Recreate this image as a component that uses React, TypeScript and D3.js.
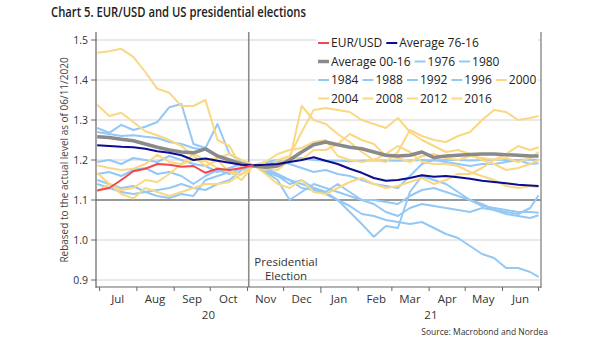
import React, { useEffect, useRef } from "react";
import * as d3 from "d3";

// ---------- DATA ----------
const dates = [
  "2020-06-29", "2020-07-09", "2020-07-19", "2020-07-29", "2020-08-08", "2020-08-18", "2020-08-28",
  "2020-09-07", "2020-09-17", "2020-09-27", "2020-10-07", "2020-10-17", "2020-10-27", "2020-11-06",
  "2020-11-16", "2020-11-26", "2020-12-06", "2020-12-16", "2020-12-26", "2021-01-05", "2021-01-15",
  "2021-01-25", "2021-02-04", "2021-02-14", "2021-02-24", "2021-03-06", "2021-03-16", "2021-03-26",
  "2021-04-05", "2021-04-15", "2021-04-25", "2021-05-05", "2021-05-15", "2021-05-25", "2021-06-04",
  "2021-06-14", "2021-06-24", "2021-07-01",
];

const eurusd = [1.124, 1.13, 1.15, 1.172, 1.178, 1.19, 1.188, 1.183, 1.185, 1.168, 1.178, 1.175, 1.18, 1.187];

const avg7616 = [1.237, 1.235, 1.233, 1.232, 1.228, 1.222, 1.218, 1.212, 1.2, 1.204, 1.198, 1.193, 1.188, 1.187,
  1.188, 1.19, 1.195, 1.2, 1.207, 1.198, 1.19, 1.178, 1.168, 1.155, 1.148, 1.15, 1.155, 1.162, 1.158, 1.16,
  1.157, 1.153, 1.148, 1.145, 1.142, 1.138, 1.136, 1.135];

const avg0016 = [1.258, 1.256, 1.252, 1.248, 1.24, 1.232, 1.225, 1.22, 1.218, 1.228, 1.21, 1.2, 1.19, 1.185,
  1.182, 1.185, 1.2, 1.22, 1.238, 1.245, 1.238, 1.232, 1.228, 1.22, 1.212, 1.21, 1.212, 1.22, 1.206, 1.21,
  1.212, 1.214, 1.215, 1.215, 1.213, 1.212, 1.21, 1.21];

const y1976 = [1.195, 1.2, 1.19, 1.205, 1.2, 1.195, 1.21, 1.2, 1.19, 1.185, 1.17, 1.18, 1.19, 1.187,
  1.19, 1.195, 1.2, 1.205, 1.2, 1.198, 1.198, 1.197, 1.198, 1.199, 1.199, 1.198, 1.199, 1.2, 1.199, 1.2,
  1.2, 1.199, 1.2, 1.201, 1.2, 1.2, 1.201, 1.2];
const y1980 = [1.28, 1.268, 1.288, 1.275, 1.283, 1.295, 1.332, 1.34, 1.24, 1.23, 1.29, 1.215, 1.195, 1.187,
  1.175, 1.16, 1.15, 1.13, 1.125, 1.115, 1.1, 1.085, 1.065, 1.06, 1.05, 1.045, 1.04, 1.045, 1.03, 1.015,
  1.005, 0.985, 0.965, 0.955, 0.93, 0.93, 0.92, 0.908];
const y1984 = [1.14, 1.13, 1.12, 1.115, 1.12, 1.125, 1.13, 1.14, 1.13, 1.125, 1.14, 1.15, 1.175, 1.187,
  1.18, 1.165, 1.15, 1.14, 1.13, 1.12, 1.1, 1.07, 1.04, 1.008, 1.035, 1.03, 1.12, 1.16, 1.15, 1.14,
  1.12, 1.1, 1.09, 1.075, 1.065, 1.06, 1.055, 1.062];
const y1988 = [1.27, 1.265, 1.26, 1.262, 1.258, 1.255, 1.245, 1.24, 1.23, 1.225, 1.21, 1.2, 1.19, 1.187,
  1.195, 1.2, 1.19, 1.18, 1.17, 1.175, 1.165, 1.16, 1.15, 1.14, 1.135, 1.13, 1.16, 1.19, 1.2, 1.195,
  1.19, 1.185, 1.19, 1.19, 1.195, 1.2, 1.19, 1.192];
const y1992 = [1.165, 1.17, 1.16, 1.175, 1.18, 1.165, 1.17, 1.16, 1.14, 1.16, 1.175, 1.165, 1.18, 1.187,
  1.17, 1.16, 1.14, 1.15, 1.13, 1.12, 1.14, 1.12, 1.1, 1.09, 1.07, 1.06, 1.08, 1.09, 1.085, 1.08,
  1.075, 1.07, 1.08, 1.075, 1.07, 1.065, 1.08, 1.112];
const y1996 = [1.15, 1.14, 1.13, 1.135, 1.12, 1.11, 1.105, 1.115, 1.11, 1.15, 1.16, 1.17, 1.165, 1.187,
  1.17, 1.15, 1.1, 1.12, 1.14, 1.13, 1.12, 1.11, 1.1, 1.1, 1.095, 1.09, 1.11, 1.125, 1.13, 1.12,
  1.11, 1.1, 1.085, 1.08, 1.075, 1.07, 1.07, 1.068];
const y2000 = [1.338, 1.31, 1.318, 1.295, 1.272, 1.262, 1.25, 1.235, 1.21, 1.185, 1.2, 1.17, 1.15, 1.187,
  1.175, 1.2, 1.21, 1.27, 1.325, 1.33, 1.325, 1.32, 1.3, 1.29, 1.28, 1.305, 1.27, 1.25, 1.235, 1.22,
  1.225, 1.215, 1.2, 1.19, 1.175, 1.18, 1.19, 1.2];
const y2004 = [1.122, 1.14, 1.115, 1.104, 1.13, 1.12, 1.11, 1.12, 1.13, 1.14, 1.14, 1.145, 1.165, 1.187,
  1.195, 1.215, 1.225, 1.23, 1.245, 1.25, 1.21, 1.2, 1.195, 1.2, 1.215, 1.235, 1.22, 1.195, 1.19, 1.19,
  1.185, 1.17, 1.16, 1.15, 1.135, 1.13, 1.135, 1.132];
const y2008 = [1.468, 1.472, 1.478, 1.458, 1.42, 1.378, 1.368, 1.335, 1.335, 1.35, 1.25, 1.235, 1.18, 1.187,
  1.18, 1.175, 1.2, 1.335, 1.3, 1.29, 1.265, 1.245, 1.22, 1.2, 1.195, 1.22, 1.275, 1.26, 1.25, 1.245,
  1.26, 1.27, 1.3, 1.325, 1.32, 1.3, 1.305, 1.31];
const y2012 = [1.168, 1.14, 1.125, 1.13, 1.15, 1.145, 1.165, 1.19, 1.215, 1.2, 1.205, 1.215, 1.2, 1.187,
  1.18, 1.19, 1.205, 1.2, 1.225, 1.225, 1.24, 1.265, 1.25, 1.24, 1.21, 1.205, 1.195, 1.21, 1.215, 1.205,
  1.2, 1.21, 1.205, 1.2, 1.215, 1.235, 1.225, 1.232];
const y2016 = [1.187, 1.18, 1.175, 1.178, 1.19, 1.213, 1.195, 1.19, 1.2, 1.197, 1.18, 1.172, 1.163, 1.187,
  1.165, 1.14, 1.13, 1.15, 1.12, 1.115, 1.13, 1.145, 1.155, 1.14, 1.13, 1.135, 1.145, 1.155, 1.14, 1.15,
  1.165, 1.165, 1.18, 1.2, 1.205, 1.195, 1.205, 1.22];

const blueYears = [
  { name: "1976", values: y1976 },
  { name: "1980", values: y1980 },
  { name: "1984", values: y1984 },
  { name: "1988", values: y1988 },
  { name: "1992", values: y1992 },
  { name: "1996", values: y1996 },
];
const yellowYears = [
  { name: "2000", values: y2000 },
  { name: "2004", values: y2004 },
  { name: "2008", values: y2008 },
  { name: "2012", values: y2012 },
  { name: "2016", values: y2016 },
];

const yTicks = [0.9, 1.0, 1.1, 1.2, 1.3, 1.4, 1.5];
const legendRows = [
  ["EUR/USD", "Average 76-16"],
  ["Average 00-16", "1976", "1980"],
  ["1984", "1988", "1992", "1996", "2000"],
  ["2004", "2008", "2012", "2016"],
];
const electionDate = "2020-11-02";
const xDomain = ["2020-06-28", "2021-07-03"];

// ---------- STYLE ----------
const C_RED = "#f2474f";
const C_NAVY = "#0c0c8e";
const C_GRAY = "#8a8a8a";
const C_BLUE = "#94c8f5";
const C_YELLOW = "#fad883";
const FONT = "'Open Sans', 'Noto Sans', sans-serif";

const colorOf = (name: string) =>
  name === "EUR/USD" ? C_RED : name === "Average 76-16" ? C_NAVY : name === "Average 00-16" ? C_GRAY :
    +name < 2000 ? C_BLUE : C_YELLOW;

export default function App() {
  const ref = useRef<SVGSVGElement>(null);

  useEffect(() => {
    const svg = d3.select(ref.current);
    svg.selectAll("*").remove();
    const parse = d3.utcParse("%Y-%m-%d");
    const L = 96, R = 541, T = 32, B = 287;

    const x = d3.scaleUtc().domain(xDomain.map((d) => parse(d) as Date)).range([L, R]);
    const y = d3.scaleLinear().domain([0.88, 1.52]).range([288, 32]);
    const dts = dates.map((d) => parse(d) as Date);

    svg.append("rect").attr("width", 605).attr("height", 341).attr("fill", "#fff");

    // title
    svg.append("text").attr("x", 51).attr("y", 17).attr("font-family", FONT).attr("font-size", 14.5)
      .attr("font-weight", 600).attr("fill", "#222").attr("textLength", 255).attr("lengthAdjust", "spacingAndGlyphs")
      .text("Chart 5. EUR/USD and US presidential elections");

    // gridlines
    const g = svg.append("g");
    yTicks.forEach((t) => {
      g.append("line").attr("x1", L).attr("x2", R).attr("y1", y(t)).attr("y2", y(t))
        .attr("stroke", t === 1.1 ? "#333" : "#e2e2e2").attr("stroke-width", t === 1.1 ? 1 : 1.3);
      g.append("line").attr("x1", L - 5).attr("x2", L).attr("y1", y(t)).attr("y2", y(t)).attr("stroke", "#666");
      g.append("text").attr("x", L - 8).attr("y", y(t)).attr("dy", "0.35em").attr("text-anchor", "end")
        .attr("font-family", FONT).attr("font-size", 10.5).attr("fill", "#333").text(d3.format(".1f")(t));
    });

    // election line
    const ex = x(parse(electionDate) as Date);
    g.append("line").attr("x1", ex).attr("x2", ex).attr("y1", T).attr("y2", B).attr("stroke", "#8c8c8c").attr("stroke-width", 1.6);

    // series
    const line = d3.line<number>().x((_, i) => x(dts[i])).y((v) => y(v)).curve(d3.curveLinear);
    const sg = svg.append("g").attr("fill", "none").attr("stroke-linejoin", "round");
    blueYears.forEach((s) => sg.append("path").attr("d", line(s.values)).attr("stroke", C_BLUE).attr("stroke-width", 2));
    yellowYears.forEach((s) => sg.append("path").attr("d", line(s.values)).attr("stroke", C_YELLOW).attr("stroke-width", 2));
    sg.append("path").attr("d", line(avg0016)).attr("stroke", C_GRAY).attr("stroke-width", 3.5);
    sg.append("path").attr("d", line(avg7616)).attr("stroke", C_NAVY).attr("stroke-width", 2);
    sg.append("path").attr("d", line(eurusd)).attr("stroke", C_RED).attr("stroke-width", 2);

    // frame
    svg.append("line").attr("x1", L).attr("x2", L).attr("y1", T).attr("y2", B + 1).attr("stroke", "#666").attr("stroke-width", 1.2);
    svg.append("line").attr("x1", R).attr("x2", R).attr("y1", T).attr("y2", B + 1).attr("stroke", "#8c8c8c").attr("stroke-width", 1.4);
    svg.append("line").attr("x1", L).attr("x2", R).attr("y1", B).attr("y2", B).attr("stroke", "#666").attr("stroke-width", 1.2);

    // x ticks
    const months = d3.utcMonth.range(parse("2020-07-01") as Date, parse("2021-07-02") as Date);
    months.forEach((m) => {
      const isYear = m.getUTCMonth() === 0;
      svg.append("line").attr("x1", x(m)).attr("x2", x(m)).attr("y1", B).attr("y2", B + (isYear ? 6 : 4)).attr("stroke", "#666");
    });
    const fmt = d3.utcFormat("%b");
    months.slice(0, -1).forEach((m) => {
      const mid = new Date(m.getTime() + 15 * 86400000);
      svg.append("text").attr("x", x(mid)).attr("y", 303).attr("text-anchor", "middle").attr("font-family", FONT)
        .attr("font-size", 11.5).attr("fill", "#333").text(fmt(m));
    });
    const [d0, d1] = x.domain();
    const yb = parse("2021-01-01") as Date;
    [["20", d0, yb], ["21", yb, d1]].forEach(([lab, a, b]: any) => {
      svg.append("text").attr("x", (x(a) + x(b)) / 2).attr("y", 319).attr("text-anchor", "middle").attr("font-family", FONT)
        .attr("font-size", 11.5).attr("fill", "#333").text(lab);
    });

    // election label
    const lab = svg.append("text").attr("text-anchor", "middle").attr("font-family", FONT).attr("font-size", 11.5).attr("fill", "#333");
    lab.append("tspan").attr("x", 286).attr("y", 266).text("Presidential");
    lab.append("tspan").attr("x", 286).attr("y", 280).text("Election");

    // y-axis title
    svg.append("text").attr("transform", `translate(68,${(y(1.5) + y(0.9)) / 2}) rotate(-90)`).attr("text-anchor", "middle")
      .attr("font-family", FONT).attr("font-size", 10).attr("fill", "#444").text("Rebased to the actual level as of 06/11/2020");

    // source
    svg.append("text").attr("x", 548).attr("y", 335).attr("text-anchor", "end").attr("font-family", FONT)
      .attr("font-size", 8.5).attr("fill", "#333").text("Source: Macrobond and Nordea");

    // legend
    const lg = svg.append("g");
    lg.append("rect").attr("x", 316).attr("y", 34).attr("width", 222).attr("height", 72).attr("fill", "#fff");
    legendRows.forEach((row, ri) => {
      let cx = 318;
      const cy = 43 + ri * 18.5;
      row.forEach((name) => {
        lg.append("line").attr("x1", cx).attr("x2", cx + 11).attr("y1", cy).attr("y2", cy).attr("stroke", colorOf(name))
          .attr("stroke-width", name === "Average 00-16" ? 3.5 : 2);
        const t = lg.append("text").attr("x", cx + 13).attr("y", cy).attr("dy", "0.36em").attr("font-family", FONT)
          .attr("font-size", 12).attr("fill", "#222").text(name);
        const w = (t.node() as SVGTextElement).getComputedTextLength();
        cx += 13 + w + 4;
      });
    });
  }, []);

  return <svg ref={ref} width={605} height={341} style={{ position: "absolute", left: 0, top: 0 }} />;
}
